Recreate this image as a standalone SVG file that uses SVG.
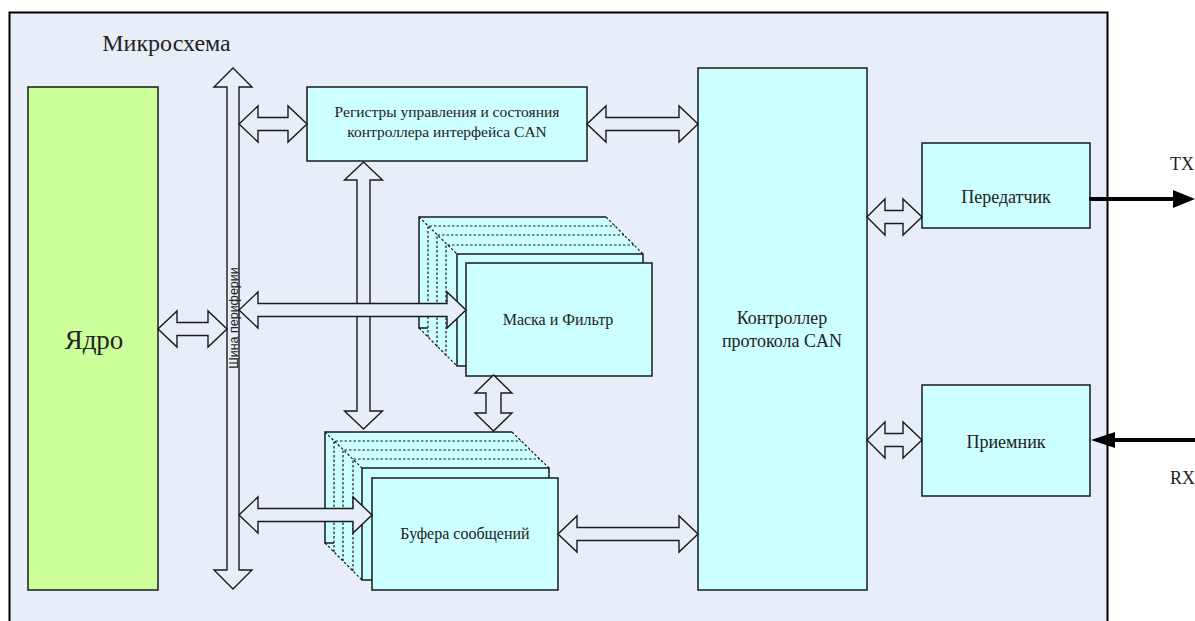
<svg xmlns="http://www.w3.org/2000/svg" width="1195" height="621" viewBox="0 0 1195 621">
<style>
.box{fill:#CCFFFF;stroke:#1a1a1a;stroke-width:1.5}
.arr{fill:#E8EEF8;stroke:#1a1a1a;stroke-width:1.4;stroke-linejoin:miter}
.dot{fill:none;stroke:#1a1a1a;stroke-width:1.2;stroke-dasharray:2.5,2}
.sol{fill:none;stroke:#1a1a1a;stroke-width:1.5}
.t{font-family:"Liberation Serif","Times New Roman",serif;fill:#222;text-anchor:middle}
.ts{font-family:"Liberation Serif","Times New Roman",serif;fill:#222;text-anchor:start}
.sig{stroke:#000;stroke-width:4;fill:none}
</style>
<rect x="0" y="0" width="1195" height="621" fill="#ffffff"/>
<g id="chip">
<rect x="9.5" y="12.5" width="1098" height="640" fill="#E8EEF8" stroke="#000" stroke-width="2"/>
<text class="t" x="166.5" y="51" font-size="24">Микросхема</text>
</g>
<g id="core">
<rect x="28" y="87" width="130" height="503" fill="#CCFF99" stroke="#1a1a1a" stroke-width="1.5"/>
<text class="t" x="94" y="349" font-size="27">Ядро</text>
</g>
<g id="registers">
<rect class="box" x="307" y="87" width="280" height="74"/>
<text class="t" x="447" y="117" font-size="15.5">Регистры управления и состояния</text>
<text class="t" x="447" y="137" font-size="15.5">контроллера интерфейса CAN</text>
</g>
<g id="mask">
<polygon points="419,217 606,217 643,254 643,366 457,366 419,328" fill="#CCFFFF"/>
<path class="sol" d="M428,328 H419 V217 H606"/>
<path class="dot" d="M428,337 V226 H615 M437,347 V235 H624 M446,356 V245 H634 M419,217 L457,254 M606,217 L643,254 M419,328 L457,366"/>
<rect class="box" x="457" y="254" width="186" height="112"/>
<rect class="box" x="466" y="263" width="186" height="113"/>
<text class="t" x="558" y="325" font-size="16">Маска и Фильтр</text>
</g>
<g id="buffers">
<polygon points="325,432 512,432 549,468 549,580 362,580 325,543" fill="#CCFFFF"/>
<path class="sol" d="M334,543 H325 V432 H512"/>
<path class="dot" d="M334,552 V441 H521 M343,561 V450 H530 M353,571 V459 H540 M325,432 L362,468 M512,432 L549,468 M325,543 L362,580"/>
<rect class="box" x="362" y="468" width="187" height="112"/>
<rect class="box" x="372" y="478" width="186" height="112"/>
<text class="t" x="465" y="539" font-size="16">Буфера сообщений</text>
</g>
<g id="controller">
<rect class="box" x="698" y="68" width="169" height="522"/>
<text class="t" x="782" y="324" font-size="18">Контроллер</text>
<text class="t" x="782" y="347" font-size="18">протокола CAN</text>
</g>
<g id="transmitter">
<rect class="box" x="922" y="143" width="168" height="85"/>
<text class="t" x="1006" y="203" font-size="18">Передатчик</text>
</g>
<g id="receiver">
<rect class="box" x="922" y="385" width="168" height="111"/>
<text class="t" x="1006" y="448" font-size="18">Приемник</text>
</g>
<g id="connectors">
<polygon class="arr" points="233,68 252,87 239,87 239,570 252,570 233,589 214,570 227,570 227,87 214,87"/>
<text x="237.5" y="318" transform="rotate(-90 237.5 318)" font-family="Liberation Sans, Arial, sans-serif" font-size="12.5" fill="#222" text-anchor="middle">Шина периферии</text>
<polygon class="arr" points="363.5,162 382.5,180 370,180 370,411 382.5,411 363.5,429 344.5,411 357,411 357,180 344.5,180"/>
<polygon class="arr" points="493.5,375 512,393 501,393 501,413 512,413 493.5,431 475,413 486,413 486,393 475,393"/>
<polygon class="arr" points="158,329 177,311 177,322.5 208,322.5 208,311 227,329 208,347 208,335.5 177,335.5 177,347"/>
<polygon class="arr" points="239,124 258,106 258,117.5 288,117.5 288,106 307,124 288,142 288,130.5 258,130.5 258,142"/>
<polygon class="arr" points="587,124 606,106 606,117.5 679,117.5 679,106 698,124 679,142 679,130.5 606,130.5 606,142"/>
<polygon class="arr" points="239,310 258,292 258,303.5 447,303.5 447,292 466,310 447,328 447,316.5 258,316.5 258,328"/>
<polygon class="arr" points="239,515 258,497 258,508.5 353,508.5 353,497 372,515 353,533 353,521.5 258,521.5 258,533"/>
<polygon class="arr" points="558,534 577,516 577,527.5 679,527.5 679,516 698,534 679,552 679,540.5 577,540.5 577,552"/>
<polygon class="arr" points="867,217 885,199 885,210.5 903,210.5 903,199 922,217 903,235 903,223.5 885,223.5 885,235"/>
<polygon class="arr" points="867,440 885,422 885,433.5 903,433.5 903,422 922,440 903,458 903,446.5 885,446.5 885,458"/>
<line class="sig" x1="1089" y1="199" x2="1176" y2="199"/>
<polygon points="1173,190 1195,199 1173,208" fill="#000"/>
<line class="sig" x1="1195" y1="440" x2="1112" y2="440"/>
<polygon points="1091,440 1115,432 1115,448" fill="#000"/>
</g>
<text class="ts" x="1170" y="170" font-size="18">TX</text>
<text class="ts" x="1170" y="484" font-size="18">RX</text>
</svg>
